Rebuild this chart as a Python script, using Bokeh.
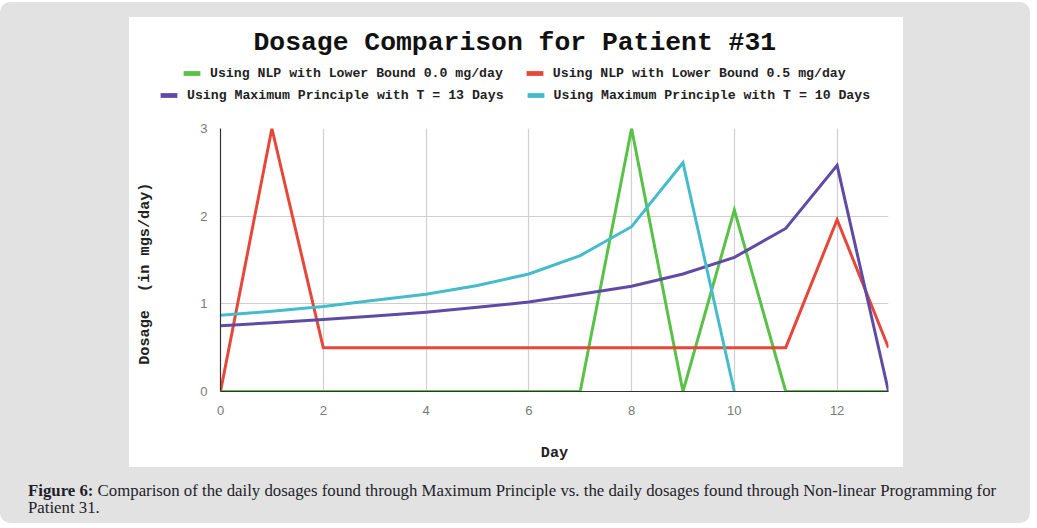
from bokeh.plotting import figure
from bokeh.models import Range1d, FixedTicker, Div, Legend, LegendItem
from bokeh.core.properties import value
from bokeh.layouts import column
from bokeh.embed import file_html
from bokeh.resources import INLINE

NAN = float("nan")

# ---- data ----
days = list(range(14))
nlp_lb00 = [0, 0, 0, 0, 0, 0, 0, 0, 3.0, 0, 2.07, 0, 0, 0]
nlp_lb05 = [0, 3.0, 0.5, 0.5, 0.5, 0.5, 0.5, 0.5, 0.5, 0.5, 0.5, 0.5, 1.96, 0.5]
mp_t13 = [0.75, 0.785, 0.82, 0.86, 0.905, 0.96, 1.02, 1.11, 1.20, 1.34, 1.53, 1.86, 2.58, 0]
days_t10 = list(range(11))
mp_t10 = [0.87, 0.915, 0.97, 1.04, 1.11, 1.21, 1.34, 1.55, 1.88, 2.61, 0]

x_ticks = [0, 2, 4, 6, 8, 10, 12]
y_ticks = [0, 1, 2, 3]

series_names = [
    "Using NLP with Lower Bound 0.0 mg/day",
    "Using NLP with Lower Bound 0.5 mg/day",
    "Using Maximum Principle with T = 13 Days",
    "Using Maximum Principle with T = 10 Days",
]
colors = ["#57c246", "#e5473b", "#5f4ba6", "#46bccb"]
title_text = "Dosage Comparison for Patient #31"
y_label = "Dosage\u00a0 (in mgs/day)\u00a0\u00a0\u00a0"
caption_html = ("<b>Figure 6:</b> Comparison of the daily dosages found through Maximum Principle vs. "
                "the daily dosages found through Non-linear Programming for<br>Patient 31.")

MONO = "Liberation Mono"
HEAD_H = 103

# ---- header: title + legend ----
head = figure(width=774, height=HEAD_H, output_backend="svg", toolbar_location=None,
              x_range=Range1d(0, 774), y_range=Range1d(HEAD_H, 0),
              x_axis_type=None, y_axis_type=None,
              min_border=0, min_border_left=0, min_border_right=0,
              min_border_top=0, min_border_bottom=0,
              background_fill_color="white", border_fill_color="white", outline_line_color=None)
head.frame_align = False
head.xgrid.visible = False
head.ygrid.visible = False

head.text(x=[124], y=[25], text=[title_text], text_font=value(MONO), text_font_style="bold",
          text_font_size="26.4px", text_color="#111111", text_align="left",
          text_baseline="alphabetic")

# legend swatches (renderers carry no visible data; they only provide the legend glyphs)
swatches = [head.quad(left=[NAN], right=[NAN], top=[NAN], bottom=[NAN],
                      fill_color=c, line_color=None) for c in colors]

def make_row(idx, loc):
    leg = Legend(items=[LegendItem(label=series_names[i], renderers=[swatches[i]]) for i in idx],
                 orientation="horizontal", location=loc, margin=0, padding=0, spacing=21,
                 glyph_width=21, glyph_height=6, label_standoff=8, label_height=20,
                 label_text_font=MONO, label_text_font_style="bold",
                 label_text_font_size="13.2px", label_text_color="#222222",
                 border_line_color=None, background_fill_alpha=0)
    head.add_layout(leg)

make_row([0, 1], (52, 37))
make_row([2, 3], (29, 15))

# ---- main chart ----
p = figure(width=774, height=347, output_backend="svg", toolbar_location=None,
           x_range=Range1d(0, 13), y_range=Range1d(0, 3),
           min_border_left=91, min_border_right=15, min_border_top=8, min_border_bottom=76,
           background_fill_color="white", border_fill_color="white", outline_line_color=None)
p.frame_align = False

p.xgrid.ticker = FixedTicker(ticks=x_ticks)
p.ygrid.ticker = FixedTicker(ticks=y_ticks)
for g in (p.xgrid[0], p.ygrid[0]):
    g.grid_line_color = "#cfcfcf"
    g.grid_line_width = 1.2

for ax in (p.xaxis[0], p.yaxis[0]):
    ax.major_tick_line_color = None
    ax.minor_tick_line_color = None
    ax.axis_line_color = "#333333"
    ax.axis_line_width = 1.2
    ax.major_label_text_font = "Liberation Sans"
    ax.major_label_text_font_size = "13px"
    ax.major_label_text_color = "#7a7a7a"
    ax.axis_label_text_font = MONO
    ax.axis_label_text_font_style = "bold"
    ax.axis_label_text_font_size = "15.2px"
    ax.axis_label_text_color = "#222222"
p.xaxis.ticker = FixedTicker(ticks=x_ticks)
p.yaxis.ticker = FixedTicker(ticks=y_ticks)
p.xaxis.axis_label = "Day"
p.yaxis.axis_label = y_label
p.xaxis.major_label_standoff = 8
p.yaxis.major_label_standoff = 7
p.xaxis.axis_label_standoff = 26
p.yaxis.axis_label_standoff = 43

p.line(days, nlp_lb00, line_color=colors[0], line_width=3, line_join="miter")
p.line(days, nlp_lb05, line_color=colors[1], line_width=3, line_join="miter")
p.line(days, mp_t13, line_color=colors[2], line_width=3, line_join="miter")
p.line(days_t10, mp_t10, line_color=colors[3], line_width=3, line_join="miter")

card = column(head, p, width=774, height=450, margin=(15, 0, 0, 129),
              styles={"background-color": "white"})

caption = Div(text=caption_html, width=1000, height=40, margin=(15, 0, 0, 28),
              styles={"font-family": "Liberation Serif", "font-size": "16.8px",
                      "line-height": "17px", "color": "#1e1e2a", "white-space": "nowrap"})

panel = column(card, caption, width=1030, height=521, margin=(2, 0, 0, 0),
               styles={"background-color": "#e2e2e2", "border-radius": "10px"})

open("out.html", "w").write(file_html(panel, INLINE))
